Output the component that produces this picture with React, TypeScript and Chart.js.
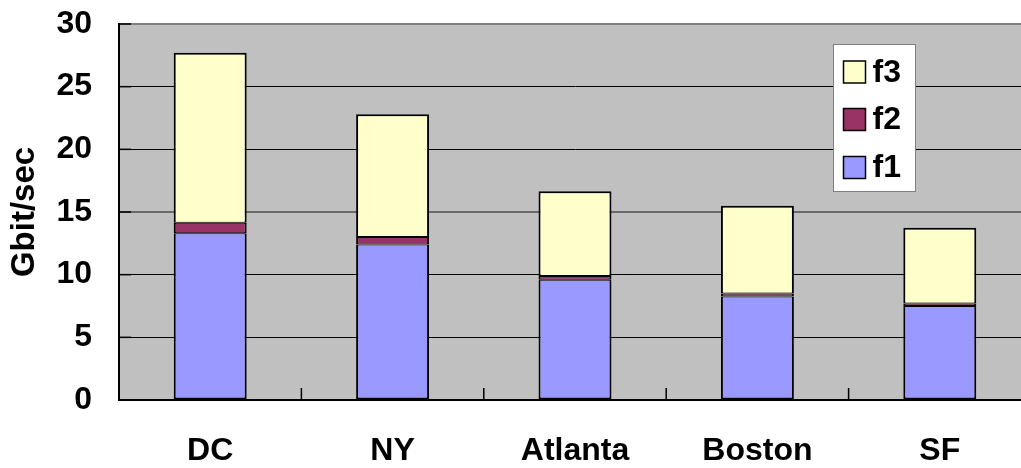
import React, { useEffect, useRef } from "react";
import { Chart, registerables } from "chart.js";

Chart.register(...registerables);

const categories = ["DC", "NY", "Atlanta", "Boston", "SF"];
const f1Values = [13.3, 12.4, 9.6, 8.25, 7.5];
const f2Values = [0.85, 0.6, 0.3, 0.25, 0.2];
const f3Values = [13.55, 9.8, 6.75, 7.0, 6.05];
const seriesNames = ["f1", "f2", "f3"];
const yTickMax = 30;
const yTickStep = 5;
const yAxisTitle = "Gbit/sec";

const FONT = "'Liberation Sans', Arial, sans-serif";

const plotBgPlugin = {
  id: "plotBg",
  beforeDraw(chart: any) {
    const { ctx, chartArea } = chart;
    ctx.save();
    ctx.fillStyle = "#C0C0C0";
    ctx.fillRect(chartArea.left, chartArea.top, chartArea.right - chartArea.left, chartArea.bottom - chartArea.top);
    ctx.restore();
  },
  afterDatasetsDraw(chart: any) {
    const { ctx, chartArea, scales } = chart;
    const x = scales.x;
    const y = scales.y;
    ctx.save();
    ctx.strokeStyle = "#000";
    ctx.lineWidth = 1.5;
    const n = x.ticks.length;
    const step = x.getPixelForValue(1) - x.getPixelForValue(0);
    for (let i = 0; i <= n; i++) {
      const px = x.getPixelForValue(0) - step / 2 + i * step;
      ctx.beginPath();
      ctx.moveTo(px, chartArea.bottom);
      ctx.lineTo(px, chartArea.bottom - 12);
      ctx.stroke();
    }
    y.ticks.forEach((t: any) => {
      const py = y.getPixelForValue(t.value);
      ctx.beginPath();
      ctx.moveTo(chartArea.left, py);
      ctx.lineTo(chartArea.left + 12, py);
      ctx.stroke();
    });
    ctx.restore();
  },
};

const legendBoxPlugin = {
  id: "legendBox",
  afterDraw(chart: any) {
    const { ctx, chartArea } = chart;
    const bx = Math.round(chartArea.right - 198) + 0.5;
    const by = Math.round(chartArea.top + 20) + 0.5;
    const bw = 82;
    const bh = 147;
    ctx.save();
    ctx.fillStyle = "#FFFFFF";
    ctx.fillRect(bx, by, bw, bh);
    ctx.strokeStyle = "#808080";
    ctx.lineWidth = 1;
    ctx.strokeRect(bx, by, bw, bh);
    const ds = chart.data.datasets.slice().reverse();
    const rows = [27.5, 75, 123];
    ds.forEach((d: any, i: number) => {
      const cy = by + rows[i];
      ctx.fillStyle = d.backgroundColor;
      ctx.fillRect(bx + 10, cy - 11, 22, 22);
      ctx.strokeStyle = "#000";
      ctx.lineWidth = 1.5;
      ctx.strokeRect(bx + 10, cy - 11, 22, 22);
      ctx.fillStyle = "#000";
      ctx.font = `bold 32px ${FONT}`;
      ctx.textAlign = "left";
      ctx.textBaseline = "middle";
      ctx.fillText(d.label, bx + 39, cy + 1);
    });
    ctx.restore();
  },
};

export default function App() {
  const canvasRef = useRef<HTMLCanvasElement | null>(null);

  useEffect(() => {
    if (!canvasRef.current) return;
    const chart = new Chart(canvasRef.current, {
      type: "bar",
      data: {
        labels: categories,
        datasets: [
          {
            label: seriesNames[0],
            data: f1Values,
            backgroundColor: "#9999FF",
            borderColor: "#000000",
            borderWidth: { top: 1, bottom: 2, left: 2, right: 2 },
            borderSkipped: false,
          },
          {
            label: seriesNames[1],
            data: f2Values,
            backgroundColor: "#993366",
            borderColor: "#000000",
            borderWidth: { top: 1, bottom: 1, left: 2, right: 2 },
            borderSkipped: false,
          },
          {
            label: seriesNames[2],
            data: f3Values,
            backgroundColor: "#FFFFCC",
            borderColor: "#000000",
            borderWidth: { top: 2, bottom: 1, left: 2, right: 2 },
            borderSkipped: false,
          },
        ] as any,
      },
      options: {
        responsive: false,
        animation: false,
        devicePixelRatio: 1,
        layout: { padding: { top: 24, right: 9, bottom: 0, left: 0 } },
        datasets: { bar: { categoryPercentage: 1, barPercentage: 0.4 } } as any,
        plugins: {
          legend: { display: false },
          tooltip: { enabled: false },
        },
        scales: {
          x: {
            stacked: true,
            grid: { display: false, drawTicks: false },
            border: { display: true, color: "#000", width: 2 },
            ticks: {
              color: "#000",
              font: { family: FONT, size: 32, weight: "bold" },
              padding: 32,
            },
            afterFit(scale: any) {
              scale.height = 68;
              scale.paddingLeft = 0;
              scale.paddingRight = 0;
            },
          },
          y: {
            stacked: true,
            min: 0,
            max: yTickMax,
            grid: {
              drawTicks: false,
              color: (c: any) => (c.tick && c.tick.value === yTickMax ? "#808080" : c.tick && c.tick.value === 15 ? "#6a6a6a" : "#000"),
              lineWidth: (c: any) => (c.tick && (c.tick.value === yTickMax || c.tick.value === 15) ? 2 : 1),
            },
            border: { display: true, color: "#000", width: 2 },
            ticks: {
              stepSize: yTickStep,
              color: "#000",
              font: { family: FONT, size: 32, weight: "bold" },
              padding: 27,
            },
            title: {
              display: true,
              text: yAxisTitle,
              color: "#000",
              font: { family: FONT, size: 33, weight: "bold" },
              padding: { top: 5, bottom: 0 },
            },
            afterFit(scale: any) {
              scale.width = 119;
              scale.paddingTop = 0;
              scale.paddingBottom = 0;
            },
          },
        },
      },
      plugins: [plotBgPlugin, legendBoxPlugin],
    });
    return () => chart.destroy();
  }, []);

  return (
    <div style={{ position: "absolute", left: 0, top: 0, width: 1021, height: 468, overflow: "hidden", background: "#fff" }}>
      <canvas ref={canvasRef} width={1040} height={468} style={{ display: "block" }} />
    </div>
  );
}
